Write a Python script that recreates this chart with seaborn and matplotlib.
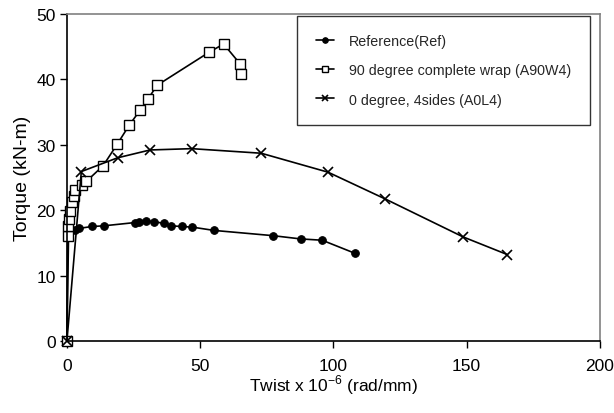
import matplotlib
matplotlib.use("Agg")
import matplotlib.pyplot as plt
import seaborn as sns
import pandas as pd

# Reference(Ref)
ref_twist = [0, 0.6, 3.1, 4.4, 9.4, 13.8, 25.5, 27.0, 29.5, 32.8, 36.4, 39.1, 43.1, 47.1, 55.2, 77.3, 87.7, 95.8, 108.1]
ref_torque = [0, 16.0, 16.9, 17.2, 17.5, 17.6, 18.1, 18.2, 18.4, 18.2, 18.0, 17.6, 17.5, 17.4, 16.9, 16.1, 15.6, 15.4, 13.4]

# 90 degree complete wrap (A90W4)
wrap_twist = [0, 0.3, 0.5, 0.8, 1.2, 1.9, 2.5, 3.1, 5.6, 7.3, 13.6, 18.9, 23.4, 27.5, 30.4, 33.9, 53.2, 58.8, 64.9, 65.2]
wrap_torque = [0, 16.0, 17.6, 18.6, 19.9, 21.2, 22.2, 23.1, 23.8, 24.4, 26.8, 30.1, 33.0, 35.3, 37.0, 39.1, 44.1, 45.4, 42.4, 40.8]

# 0 degree, 4sides (A0L4)
side_twist = [0, 5.4, 19.0, 31.2, 46.8, 72.9, 98.0, 119.5, 148.7, 165.3]
side_torque = [0, 25.9, 28.0, 29.2, 29.4, 28.7, 25.8, 21.7, 15.9, 13.2]

labels = ["Reference(Ref)", "90 degree complete wrap (A90W4)", "0 degree, 4sides (A0L4)"]

sns.set_style("white")
plt.rcParams["font.family"] = ["Liberation Sans", "DejaVu Sans"]
plt.rcParams["mathtext.fontset"] = "custom"
plt.rcParams["mathtext.rm"] = "Liberation Sans"

fig = plt.figure(figsize=(6.14, 4.14), dpi=100)
ax = fig.add_axes([0.109, 0.174, 0.868, 0.79])

series = [
    (ref_twist, ref_torque, labels[0], dict(marker="o", markersize=5.5, markerfacecolor="black", markeredgecolor="black")),
    (wrap_twist, wrap_torque, labels[1], dict(marker="s", markersize=6.5, markerfacecolor="white", markeredgecolor="black", markeredgewidth=1)),
    (side_twist, side_torque, labels[2], dict(marker="x", markersize=7, markeredgecolor="black", markeredgewidth=1.2)),
]

for x, y, lab, style in series:
    df = pd.DataFrame({"twist": x, "torque": y})
    sns.lineplot(data=df, x="twist", y="torque", sort=False, estimator=None,
                 color="black", linewidth=1.2, label=lab, ax=ax, clip_on=False, **style)

ax.set_xlim(0, 200)
ax.set_ylim(0, 50)
ax.set_xticks([0, 50, 100, 150, 200])
ax.set_yticks([0, 10, 20, 30, 40, 50])
ax.tick_params(axis="both", which="major", direction="out", length=5, width=1,
               labelsize=12.5, colors="black", left=True, bottom=True, pad=3)
ax.tick_params(axis="x", pad=7)

for side in ["left", "bottom"]:
    ax.spines[side].set_color("black")
    ax.spines[side].set_linewidth(1.2)
for side in ["top", "right"]:
    ax.spines[side].set_color("#808080")
    ax.spines[side].set_linewidth(1.2)

ax.set_xlabel(r"Twist x 10$^{\mathregular{-6}}$ (rad/mm)", fontsize=12.5, color="black", labelpad=0)
ax.set_ylabel("Torque (kN-m)", fontsize=14, color="black", labelpad=4)

leg = ax.legend(loc="upper left", bbox_to_anchor=(0.432, 0.994), frameon=True, fancybox=False,
                edgecolor="black", fontsize=10.3, handlelength=1.3, handletextpad=1.0,
                labelspacing=1.05, borderpad=1.3, borderaxespad=0)
leg.get_frame().set_linewidth(1.0)
for h in leg.legend_handles:
    h.set_markersize(4)

fig.savefig("out.png", dpi=100)
